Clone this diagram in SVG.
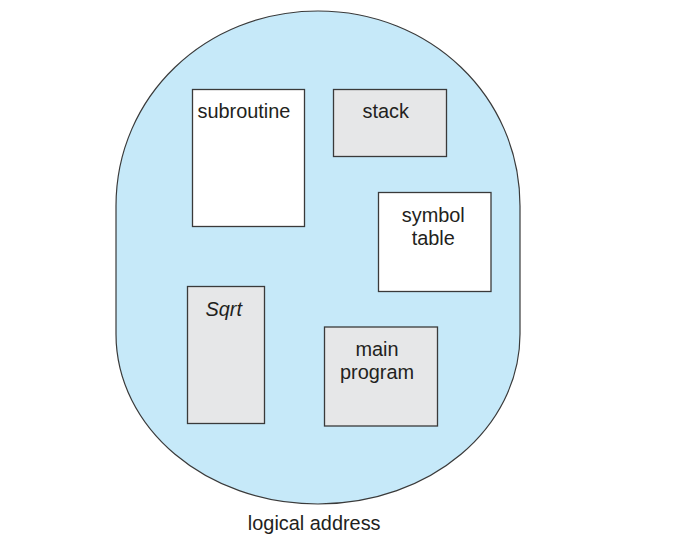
<svg xmlns="http://www.w3.org/2000/svg" width="674" height="552" viewBox="0 0 674 552">
<style>
.t{font-family:"Liberation Sans",Arial,sans-serif;font-size:19.9px;fill:#231f20}
.w{fill:#ffffff;stroke:#3a3a3a;stroke-width:1.3}
.g{fill:#e6e7e8;stroke:#3a3a3a;stroke-width:1.3}
</style>
<rect width="674" height="552" fill="#ffffff"/>
<g id="space">
<path d="M116,206 C116,96 206,11 318,11 C430,11 520,96 520,206 L520,334 C520,428 430,504 318,504 C206,504 116,428 116,334 Z" fill="#c6e9f9" stroke="#3a3a3a" stroke-width="1.2"/>
</g>
<g id="subroutine">
<rect class="w" x="192.5" y="89.5" width="112" height="137"/>
<text class="t" x="197.5" y="117.5">subroutine</text>
</g>
<g id="stack">
<rect class="g" x="333.5" y="89.5" width="113" height="67"/>
<text class="t" x="362.5" y="117.5">stack</text>
</g>
<g id="symbol-table">
<rect class="w" x="378.5" y="192.5" width="112.5" height="99"/>
<text class="t" x="433.3" y="221.9" text-anchor="middle">symbol</text>
<text class="t" x="433.3" y="244.5" text-anchor="middle">table</text>
</g>
<g id="sqrt">
<rect class="g" x="187.5" y="286.5" width="77" height="137"/>
<text class="t" x="223.7" y="316.2" text-anchor="middle" font-style="italic">Sqrt</text>
</g>
<g id="main-program">
<rect class="g" x="324.5" y="327" width="113" height="99"/>
<text class="t" x="377" y="356.2" text-anchor="middle">main</text>
<text class="t" x="377" y="378.7" text-anchor="middle">program</text>
</g>
<g id="connectors"></g>
<g id="caption">
<text class="t" x="314.2" y="529.5" text-anchor="middle">logical address</text>
</g>
</svg>
